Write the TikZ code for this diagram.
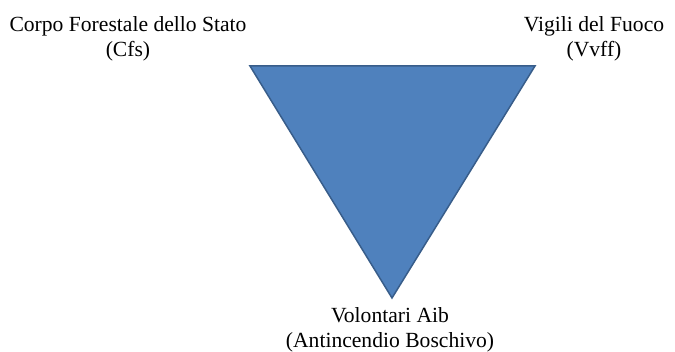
\documentclass[tikz,border=0pt]{standalone}
\usepackage{fontspec}
\setmainfont{Liberation Serif}
\usepackage{xcolor}
\usepackage{tikz}
\definecolor{corpsblue}{HTML}{4F81BD}
\definecolor{corpsedge}{HTML}{385D8A}
\tikzset{
  % ---- labels ---------------------------------------------------------
  clabel/.style={font=\fontsize{21.6}{25}\selectfont, align=center,
                 inner sep=0pt, anchor=base},
  % ---- triangle -------------------------------------------------------
  ctri/.style={fill=corpsblue, draw=corpsedge, line width=1.5pt,
               line join=miter},
}
\begin{document}
\begin{tikzpicture}[x=1pt,y=1pt]
\useasboundingbox (0,0) rectangle (675,352);

% ---------------- triangle -------------------------------------------
\coordinate (cfs) at (250,286);
\coordinate (vvff) at (535,286);
\coordinate (aib) at (392,54);
\draw[ctri] (cfs) -- (vvff) -- (aib) -- cycle;

% ---------------- labels (base = last line) --------------------------
\node[clabel] (cfslabel) at (128,295) {Corpo Forestale dello Stato\\(Cfs)};
\node[clabel] (vvfflabel) at (594,295) {Vigili del Fuoco\\(Vvff)};
\node[clabel] (aiblabel) at (390,4) {Volontari Aib\\(Antincendio Boschivo)};

\end{tikzpicture}
\end{document}
